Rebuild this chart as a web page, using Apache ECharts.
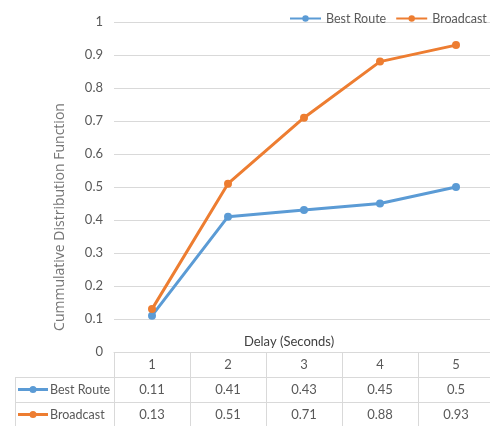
<!DOCTYPE html>
<html>
<head>
<meta charset="utf-8">
<script src="https://cdn.jsdelivr.net/npm/echarts@6/dist/echarts.min.js"></script>
<style>
html,body{margin:0;padding:0;background:#fff;}
#c{width:490px;height:426px;}
</style>
</head>
<body>
<div id="c"></div>
<script>
var categories = ['1', '2', '3', '4', '5'];
var bestRoute = [0.11, 0.41, 0.43, 0.45, 0.5];
var broadcast = [0.13, 0.51, 0.71, 0.88, 0.93];
var seriesNames = ['Best Route', 'Broadcast'];
var yTicks = ['0', '0.1', '0.2', '0.3', '0.4', '0.5', '0.6', '0.7', '0.8', '0.9', '1'];

var FONT = 'Lato, sans-serif';
var BLUE = '#5B9BD5', ORANGE = '#ED7D31', GRID = '#d9d9d9', TXT = '#595959';

var chart = echarts.init(document.getElementById('c'), null, {renderer: 'canvas'});

function rowLabel(y, name, color) {
  return [
    {type: 'line', shape: {x1: 18, y1: y, x2: 48, y2: y}, style: {stroke: color, lineWidth: 3}},
    {type: 'circle', shape: {cx: 33, cy: y, r: 3.5}, style: {fill: color}},
    {type: 'text', x: 50, y: y, style: {text: name, fill: TXT, font: '12.5px ' + FONT, verticalAlign: 'middle', align: 'left'}}
  ];
}

var option = {
  animation: false,
  backgroundColor: '#fff',
  grid: {left: 114, top: 22, width: 380, bottom: 74, containLabel: false, outerBoundsMode: 'none'},
  legend: {
    left: 284, top: 7, width: 260, orient: 'horizontal', itemWidth: 31, itemHeight: 8, itemGap: 9,
    data: seriesNames,
    textStyle: {color: TXT, fontSize: 12.5, fontFamily: FONT}
  },
  xAxis: {
    type: 'category', data: categories, boundaryGap: true,
    axisLine: {show: true, lineStyle: {color: GRID, width: 1}},
    axisTick: {show: true, length: 74, lineStyle: {color: GRID, width: 1}},
    axisLabel: {
      margin: 0, interval: 0,
      formatter: function (v, i) {
        return '{a|' + v + '}\n{a|' + bestRoute[i] + '}\n{a|' + broadcast[i] + '}';
      },
      rich: {a: {fontSize: 13, fontFamily: FONT, color: TXT, lineHeight: 25, height: 25}}
    }
  },
  yAxis: {
    type: 'value', min: 0, max: 1, interval: 0.1,
    axisLine: {show: false}, axisTick: {show: false},
    splitLine: {lineStyle: {color: GRID, width: 1}},
    axisLabel: {
      margin: 11, color: TXT, fontSize: 13, fontFamily: FONT,
      formatter: function (v) { return yTicks[Math.round(v * 10)]; }
    }
  },
  series: [
    {name: seriesNames[0], type: 'line', data: bestRoute, color: BLUE,
     lineStyle: {width: 3}, symbol: 'circle', symbolSize: 8, itemStyle: {color: BLUE}},
    {name: seriesNames[1], type: 'line', data: broadcast, color: ORANGE,
     lineStyle: {width: 3}, symbol: 'circle', symbolSize: 8, itemStyle: {color: ORANGE}}
  ],
  graphic: [
    {type: 'text', x: 60, y: 217, rotation: Math.PI / 2,
     style: {text: 'Cummulative Distribution Function', fill: '#767676', font: '14px "Open Sans", sans-serif', align: 'center', verticalAlign: 'middle'}},
    {type: 'text', x: 289, y: 342,
     style: {text: 'Delay (Seconds)', fill: '#404040', font: '13px ' + FONT, align: 'center', verticalAlign: 'middle'}},
    {type: 'line', shape: {x1: 15, y1: 377.5, x2: 494, y2: 377.5}, style: {stroke: GRID, lineWidth: 1}},
    {type: 'line', shape: {x1: 15, y1: 402.5, x2: 494, y2: 402.5}, style: {stroke: GRID, lineWidth: 1}},
    {type: 'line', shape: {x1: 15.5, y1: 377, x2: 15.5, y2: 426}, style: {stroke: GRID, lineWidth: 1}}
  ].concat(rowLabel(389.5, seriesNames[0], BLUE)).concat(rowLabel(414.5, seriesNames[1], ORANGE))
};
chart.setOption(option);
</script>
</body>
</html>
